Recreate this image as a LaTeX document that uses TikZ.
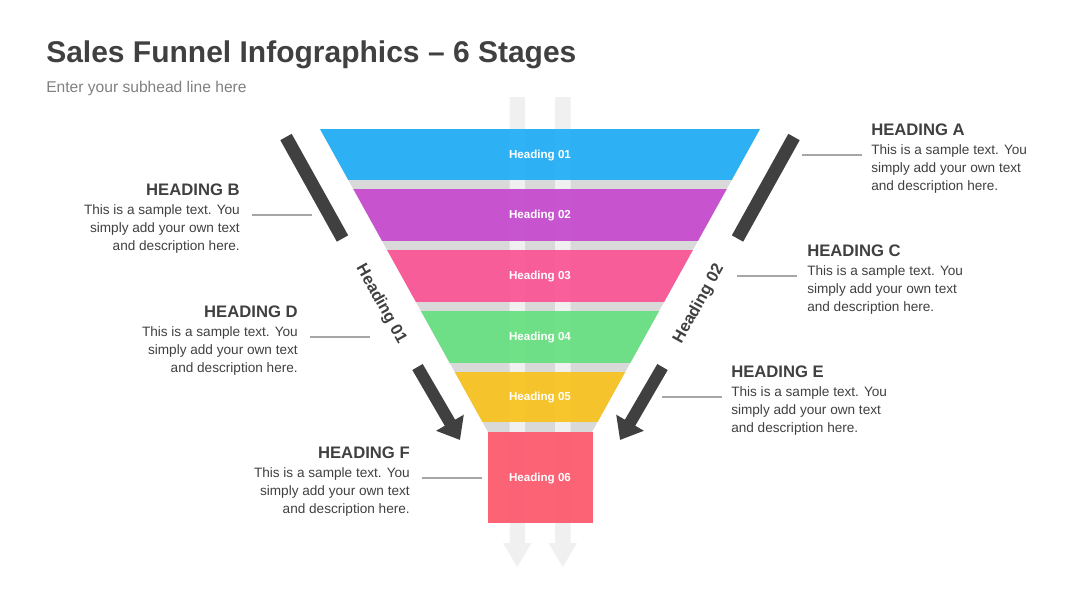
\documentclass[tikz,border=0pt]{standalone}
\usepackage{fontspec}
\setmainfont{Liberation Sans}
\usetikzlibrary{arrows.meta}
\definecolor{txtdark}{HTML}{404040}
\definecolor{txtsub}{HTML}{808080}
\definecolor{gapgray}{HTML}{D9D9D9}
\definecolor{stripe}{HTML}{F0F0F0}
\definecolor{cblue}{HTML}{22AFF7}
\definecolor{cpurple}{HTML}{C64ACE}
\definecolor{cpink}{HTML}{F95495}
\definecolor{cgreen}{HTML}{68E081}
\definecolor{cyellow}{HTML}{F8C31F}
\definecolor{cred}{HTML}{FC586C}
\definecolor{linegray}{HTML}{A6A6A6}
\definecolor{bardark}{HTML}{404040}
\tikzset{
  bandlabel/.style={text=white,font=\bfseries\fontsize{8.7pt}{10pt}\selectfont,inner sep=0pt},
  headleft/.style={anchor=base west,inner sep=0pt,text=txtdark,font=\bfseries\fontsize{12.5pt}{15pt}\selectfont},
  headright/.style={anchor=base east,inner sep=0pt,text=txtdark,font=\bfseries\fontsize{12.5pt}{15pt}\selectfont},
  bodyleft/.style={anchor=base west,inner sep=0pt,align=left,text=txtdark,font=\fontsize{10.2pt}{13.7pt}\selectfont},
  bodyright/.style={anchor=base east,inner sep=0pt,align=right,text=txtdark,font=\fontsize{10.2pt}{13.7pt}\selectfont},
  leader/.style={draw=linegray,line width=0.8pt},
  darkbar/.style={draw=bardark,line width=9.75pt,line cap=butt},
  darkarrow/.style={draw=bardark,line width=9pt,line cap=butt,-{Triangle[width=23pt,length=15pt]}},
  sidelabel/.style={text=txtdark,font=\bfseries\fontsize{12.3pt}{14pt}\selectfont,inner sep=0pt},
}
\begin{document}
\begin{tikzpicture}[x=0.75pt,y=-0.75pt]
\useasboundingbox (0,0) rectangle (1080,608);
% title
\node[anchor=base west,inner sep=0pt,text=txtdark,font=\bfseries\fontsize{22.5pt}{25pt}\selectfont] (title) at (46,62) {Sales Funnel Infographics – 6 Stages};
\node[anchor=base west,inner sep=0pt,text=txtsub,font=\fontsize{11.7pt}{14pt}\selectfont] (sub) at (46,92) {Enter your subhead line here};
% gray funnel background
\fill[gapgray] (320,129) -- (760,129) -- (592,432) -- (488,432) -- cycle;
% light stripes
\fill[stripe] (509.5,97) -- (525,97) -- (525,543) -- (531.5,543) -- (517.25,567) -- (503,543) -- (509.5,543) -- cycle;
\fill[stripe] (555,97) -- (570.5,97) -- (570.5,543) -- (577,543) -- (562.75,567) -- (548.5,543) -- (555,543) -- cycle;
% colored bands
\begin{scope}
\clip (320,129) -- (760,129) -- (592,432) -- (488,432) -- cycle;
\fill[cblue,opacity=0.93] (300,129) rectangle (780,180);
\fill[cpurple,opacity=0.93] (300,189) rectangle (780,241);
\fill[cpink,opacity=0.93] (300,250) rectangle (780,302);
\fill[cgreen,opacity=0.93] (300,311) rectangle (780,363);
\fill[cyellow,opacity=0.93] (300,372) rectangle (780,422);
\end{scope}
\fill[cred,opacity=0.93] (488,432) rectangle (593,523);
% band labels
\node[bandlabel] (b1) at (540,156) {Heading 01};
\node[bandlabel] (b2) at (540,216) {Heading 02};
\node[bandlabel] (b3) at (540,277) {Heading 03};
\node[bandlabel] (b4) at (540,338) {Heading 04};
\node[bandlabel] (b5) at (540,398) {Heading 05};
\node[bandlabel] (b6) at (540,479) {Heading 06};
% dark bars
\coordinate (lb1) at (286,137); \coordinate (lb2) at (342.5,238.5);
\coordinate (rb1) at (794,137); \coordinate (rb2) at (737.5,238.5);
\draw[darkbar] (lb1) -- (lb2);
\draw[darkbar] (rb1) -- (rb2);
% dark arrows
\coordinate (la1) at (417.5,367); \coordinate (la2) at (460,440);
\coordinate (ra1) at (662.5,367); \coordinate (ra2) at (620,440);
\draw[darkarrow] (la1) -- (la2);
\draw[darkarrow] (ra1) -- (ra2);
% side rotated labels
\node[sidelabel,rotate=-61] (s1) at (381,304) {Heading 01};
\node[sidelabel,rotate=61] (s2) at (699,304) {Heading 02};
% Heading A
\node[headleft] (hA) at (871,135) {HEADING A};
\node[bodyleft] (tA) at (871,190.6) {This is a sample text. You\\simply add your own text\\and description here.};
\coordinate (lA1) at (802,155); \coordinate (lA2) at (862,155);
\draw[leader] (lA1) -- (lA2);
% Heading B
\node[headright] (hB) at (240,195) {HEADING B};
\node[bodyright] (tB) at (240,250.6) {This is a sample text. You\\simply add your own text\\and description here.};
\coordinate (lB1) at (252,215); \coordinate (lB2) at (312,215);
\draw[leader] (lB1) -- (lB2);
% Heading C
\node[headleft] (hC) at (807,256) {HEADING C};
\node[bodyleft] (tC) at (807,311.6) {This is a sample text. You\\simply add your own text\\and description here.};
\coordinate (lC1) at (737,276); \coordinate (lC2) at (797,276);
\draw[leader] (lC1) -- (lC2);
% Heading D
\node[headright] (hD) at (298,317) {HEADING D};
\node[bodyright] (tD) at (298,372.6) {This is a sample text. You\\simply add your own text\\and description here.};
\coordinate (lD1) at (310,337); \coordinate (lD2) at (370,337);
\draw[leader] (lD1) -- (lD2);
% Heading E
\node[headleft] (hE) at (731,377) {HEADING E};
\node[bodyleft] (tE) at (731,432.6) {This is a sample text. You\\simply add your own text\\and description here.};
\coordinate (lE1) at (662,397); \coordinate (lE2) at (722,397);
\draw[leader] (lE1) -- (lE2);
% Heading F
\node[headright] (hF) at (410,458) {HEADING F};
\node[bodyright] (tF) at (410,513.6) {This is a sample text. You\\simply add your own text\\and description here.};
\coordinate (lF1) at (422,478); \coordinate (lF2) at (482,478);
\draw[leader] (lF1) -- (lF2);
\end{tikzpicture}
\end{document}
